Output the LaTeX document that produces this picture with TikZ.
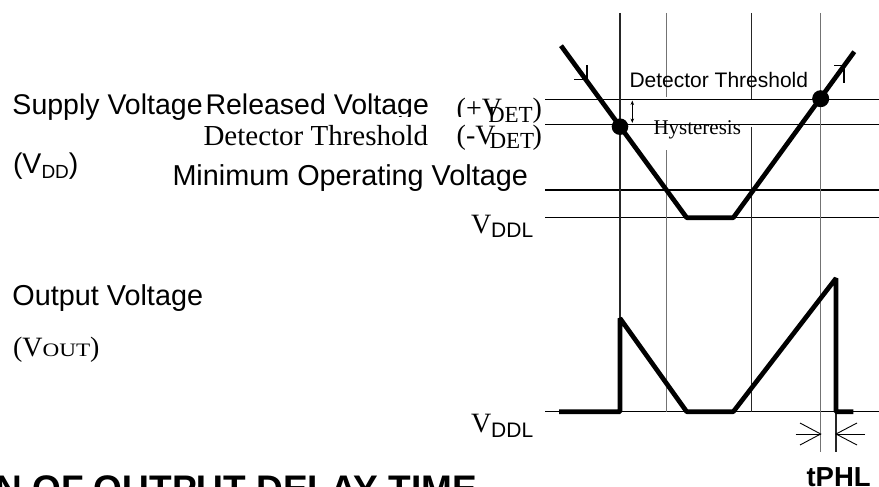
\documentclass[tikz,border=0pt]{standalone}
\usepackage{fontspec}
\setmainfont{Liberation Serif}
\newfontfamily\ars{Liberation Sans}
\newfontfamily\tnr{Liberation Serif}
\usetikzlibrary{arrows.meta}
\newcommand\fsz[1]{\fontsize{#1}{#1}\selectfont}
\begin{document}
\begin{tikzpicture}[x=1pt,y=-1pt,
  txt/.style={inner sep=0pt,outer sep=0pt,anchor=base west},
  hline/.style={line width=1.3pt,black},
  vline/.style={line width=1.1pt,black!85},
  vgray/.style={line width=1.1pt,black!55},
  wave/.style={line width=4.7pt,black,line join=bevel},
  barb/.style={line width=1.5pt,black},
  dim/.style={line width=0.9pt,black}]
\useasboundingbox (0,0) rectangle (879,487);
% horizontal reference lines
\draw[hline] (545,99.3) -- (879,99.3);
\draw[hline] (545,124.3) -- (879,124.3);
\draw[hline] (545,190) -- (879,190);
\draw[hline] (545,217.7) -- (879,217.7);
\draw[hline] (545,411.7) -- (879,411.7);
% vertical time lines
\draw[vline] (620,13) -- (620,411.7);
\draw[vgray] (666.7,13) -- (666.7,97);
\draw[vgray] (666.7,150) -- (666.7,411.7);
\draw[vline] (751.7,13) -- (751.7,99.3);
\draw[vline] (751.7,126.7) -- (751.7,411.7);
\draw[vgray] (820.7,13) -- (820.7,452);
\draw[vline] (836,411.7) -- (836,452);
% supply waveform
\coordinate (s1) at (561,45.7);
\coordinate (s2) at (686.7,217.7);
\coordinate (s3) at (733.3,217.7);
\coordinate (s4) at (854.3,51.7);
\draw[wave] (s1) -- (s2) -- (s3) -- (s4);
% direction barbs
\draw[barb] (574,79.5) -- (587,79.5) -- (587,65);
\draw[barb] (834,65.5) -- (844,65.5) -- (844,83.5);
% dots
\fill (620,126.7) circle (8.3);
\fill (820.7,98.7) circle (8.5);
% hysteresis arrow
\draw[dim,{Stealth[length=4.5pt,width=3.5pt]}-{Stealth[length=4.5pt,width=3.5pt]}] (632.3,100.5) -- (632.3,123);
% output waveform
\coordinate (o1) at (559,411.7);
\coordinate (o2) at (620,411.7);
\coordinate (o3) at (620,318.3);
\coordinate (o4) at (686.7,411.7);
\coordinate (o5) at (733.3,411.7);
\coordinate (o6) at (836,278.3);
\coordinate (o7) at (836,411.7);
\coordinate (o8) at (853.3,411.7);
\draw[wave] (o1) -- (o2) -- (o3) -- (o4) -- (o5) -- (o6) -- (o7) -- (o8);
% tPHL arrows
\draw[dim] (795.5,434) -- (820.7,434);
\draw[dim] (800,423) -- (820.7,434) -- (800,445);
\draw[dim] (865,434) -- (836,434);
\draw[dim] (857,423) -- (836,434) -- (857,445);
% texts
\node[txt] (sv) at (12.5,114.3) {\ars\fsz{28.5}Supply Voltage};
\node[txt] (rv) at (205.5,114.3) {\ars\fsz{28.5}Released Voltage};
\node[txt] (pv1) at (456.7,117.5) {\tnr\fsz{28}(+V};
\node[txt] (pv2) at (488,122) {\tnr\fsz{23}DET};
\node[txt] (pv3) at (532.5,117.5) {\tnr\fsz{28})};
\fill[white] (200,116.6) rectangle (489,150);
\node[txt] (dt) at (203.5,145) {\tnr\fsz{29}Detector Threshold};
\node[txt] (mv1) at (456.7,144) {\tnr\fsz{28}(-V};
\node[txt] (mv2) at (489.5,148) {\tnr\fsz{23}DET};
\node[txt] (mv3) at (532.5,144) {\tnr\fsz{28})};
\node[txt] (vdd) at (13,173) {\ars\fsz{28.5}(V\raisebox{-5pt}{\fsz{19}DD})};
\node[txt] (mo) at (172.5,185) {\ars\fsz{28.8}Minimum Operating Voltage};
\node[txt] (vddl1) at (471,233) {\tnr\fsz{28}V\raisebox{-4pt}{\ars\fsz{21}DDL}};
\node[txt] (ov) at (12.5,305) {\ars\fsz{28.8}Output Voltage};
\node[txt] (vout) at (13,356.7) {\tnr\fsz{28}(V\scalebox{1.22}[1]{\fsz{19}OUT})};
\node[txt] (vddl2) at (471,432.7) {\tnr\fsz{28}V\raisebox{-5pt}{\ars\fsz{21}DDL}};
\node[txt] (dt2) at (629.5,87.3) {\ars\fsz{21}Detector Threshold};
\node[txt] (hy) at (653.5,135) {\tnr\fsz{21}Hysteresis};
\node[txt] (tp) at (806.5,486) {\ars\bfseries\fsz{27.5}tPHL};
\node[inner sep=0pt,outer sep=0pt,anchor=base east] (title) at (477,501.5) {\ars\bfseries\fsz{37}N OF OUTPUT DELAY TIME};
\end{tikzpicture}
\end{document}
